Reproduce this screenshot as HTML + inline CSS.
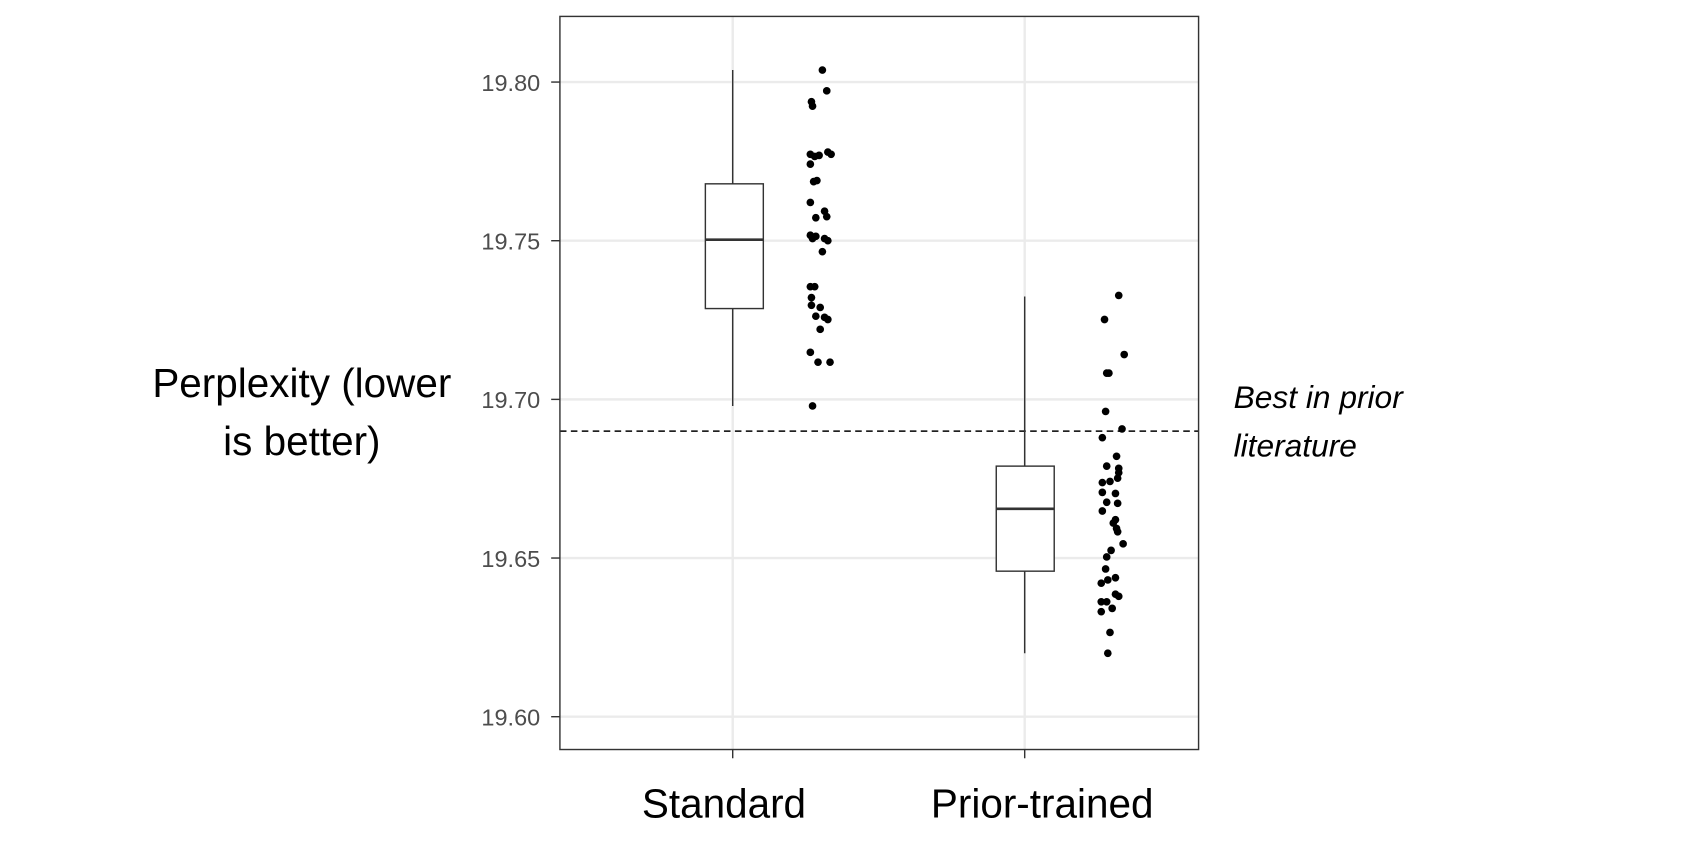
<!DOCTYPE html>
<html><head><style>html,body{margin:0;padding:0;background:#fff;}svg{display:block}</style></head>
<body>
<svg width="1706" height="848" viewBox="0 0 1560 775" preserveAspectRatio="none" xmlns="http://www.w3.org/2000/svg" font-family="'Liberation Sans', sans-serif">
<rect x="0" y="0" width="1560" height="775" fill="#fff"/>
<g stroke="#ebebeb" stroke-width="2.2">
<line x1="512" x2="1096" y1="75" y2="75"/><line x1="512" x2="1096" y1="220" y2="220"/><line x1="512" x2="1096" y1="365" y2="365"/><line x1="512" x2="1096" y1="510" y2="510"/><line x1="512" x2="1096" y1="655" y2="655"/>
<line x1="670" x2="670" y1="15" y2="685"/><line x1="937" x2="937" y1="15" y2="685"/>
</g>
<line x1="512" x2="1096" y1="394" y2="394" stroke="#000" stroke-width="1.3" stroke-dasharray="6,4"/>
<g stroke="#333" stroke-width="1.3" fill="#fff">
<line x1="670" x2="670" y1="64" y2="371"/>
<rect x="645" y="168" width="53" height="114"/>
<line x1="645" x2="698" y1="219" y2="219" stroke-width="2.4"/>
<line x1="937" x2="937" y1="271" y2="597"/>
<rect x="911" y="426" width="53" height="96"/>
<line x1="911" x2="964" y1="465" y2="465" stroke-width="2.4"/>
</g>
<g fill="#000">
<circle cx="752" cy="64" r="3.5"/><circle cx="756" cy="83" r="3.5"/><circle cx="742" cy="93" r="3.5"/><circle cx="743" cy="97" r="3.5"/><circle cx="741" cy="141" r="3.5"/><circle cx="745" cy="143" r="3.5"/><circle cx="757" cy="139" r="3.5"/><circle cx="760" cy="141" r="3.5"/><circle cx="741" cy="150" r="3.5"/><circle cx="749" cy="142" r="3.5"/><circle cx="744" cy="166" r="3.5"/><circle cx="747" cy="165" r="3.5"/><circle cx="741" cy="185" r="3.5"/><circle cx="746" cy="199" r="3.5"/><circle cx="754" cy="193" r="3.5"/><circle cx="756" cy="198" r="3.5"/><circle cx="741" cy="215" r="3.5"/><circle cx="746" cy="216" r="3.5"/><circle cx="754" cy="218" r="3.5"/><circle cx="757" cy="220" r="3.5"/><circle cx="743" cy="218" r="3.5"/><circle cx="752" cy="230" r="3.5"/><circle cx="741" cy="262" r="3.5"/><circle cx="745" cy="262" r="3.5"/><circle cx="742" cy="272" r="3.5"/><circle cx="742" cy="279" r="3.5"/><circle cx="750" cy="281" r="3.5"/><circle cx="746" cy="289" r="3.5"/><circle cx="754" cy="290" r="3.5"/><circle cx="757" cy="292" r="3.5"/><circle cx="750" cy="301" r="3.5"/><circle cx="741" cy="322" r="3.5"/><circle cx="748" cy="331" r="3.5"/><circle cx="759" cy="331" r="3.5"/><circle cx="743" cy="371" r="3.5"/>
<circle cx="1023" cy="270" r="3.5"/><circle cx="1010" cy="292" r="3.5"/><circle cx="1028" cy="324" r="3.5"/><circle cx="1012" cy="341" r="3.5"/><circle cx="1014" cy="341" r="3.5"/><circle cx="1011" cy="376" r="3.5"/><circle cx="1026" cy="392" r="3.5"/><circle cx="1008" cy="400" r="3.5"/><circle cx="1021" cy="417" r="3.5"/><circle cx="1012" cy="426" r="3.5"/><circle cx="1023" cy="428" r="3.5"/><circle cx="1023" cy="432" r="3.5"/><circle cx="1008" cy="441" r="3.5"/><circle cx="1015" cy="440" r="3.5"/><circle cx="1022" cy="437" r="3.5"/><circle cx="1008" cy="450" r="3.5"/><circle cx="1020" cy="451" r="3.5"/><circle cx="1012" cy="459" r="3.5"/><circle cx="1022" cy="460" r="3.5"/><circle cx="1008" cy="467" r="3.5"/><circle cx="1020" cy="475" r="3.5"/><circle cx="1018" cy="478" r="3.5"/><circle cx="1021" cy="483" r="3.5"/><circle cx="1027" cy="497" r="3.5"/><circle cx="1016" cy="503" r="3.5"/><circle cx="1011" cy="520" r="3.5"/><circle cx="1007" cy="533" r="3.5"/><circle cx="1013" cy="530" r="3.5"/><circle cx="1020" cy="528" r="3.5"/><circle cx="1007" cy="550" r="3.5"/><circle cx="1012" cy="550" r="3.5"/><circle cx="1020" cy="543" r="3.5"/><circle cx="1007" cy="559" r="3.5"/><circle cx="1017" cy="556" r="3.5"/><circle cx="1023" cy="545" r="3.5"/><circle cx="1015" cy="578" r="3.5"/><circle cx="1013" cy="597" r="3.5"/><circle cx="1012" cy="509" r="3.5"/><circle cx="1022" cy="486" r="3.5"/>
</g>
<rect x="512" y="15" width="584" height="670" fill="none" stroke="#333" stroke-width="1.3"/>
<g stroke="#333" stroke-width="1.3">
<line x1="504" x2="512" y1="75" y2="75"/><line x1="504" x2="512" y1="220" y2="220"/><line x1="504" x2="512" y1="365" y2="365"/><line x1="504" x2="512" y1="510" y2="510"/><line x1="504" x2="512" y1="655" y2="655"/>
<line x1="670" x2="670" y1="685" y2="693"/><line x1="937" x2="937" y1="685" y2="693"/>
</g>
<g fill="#4d4d4d" font-size="21.5" text-anchor="end">
<text x="494" y="83">19.80</text><text x="494" y="228">19.75</text><text x="494" y="373">19.70</text><text x="494" y="518">19.65</text><text x="494" y="663">19.60</text>
</g>
<g fill="#000" font-size="37" text-anchor="middle">
<text x="276" y="363">Perplexity (lower</text><text x="276" y="416">is better)</text>
</g>
<g fill="#000" font-size="37" text-anchor="middle">
<text x="662" y="747">Standard</text><text x="953" y="747">Prior-trained</text>
</g>
<g fill="#000" font-size="29" font-style="italic">
<text x="1128" y="373">Best in prior</text><text x="1128" y="417">literature</text>
</g>
</svg>
</body></html>
